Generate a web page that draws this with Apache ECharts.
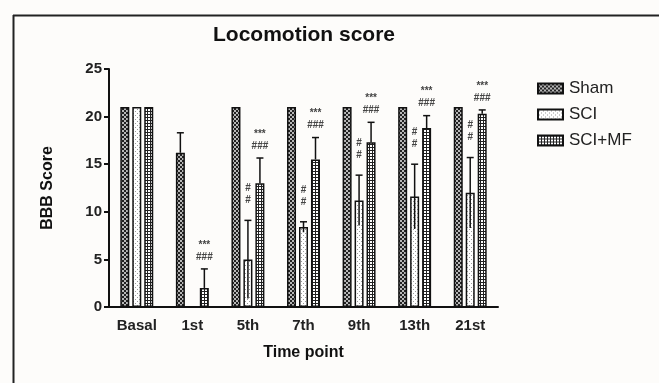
<!DOCTYPE html>
<html>
<head>
<meta charset="utf-8">
<script src="https://cdn.jsdelivr.net/npm/echarts@6/dist/echarts.min.js"></script>
<style>
html,body{margin:0;padding:0;background:#fdfcfa;}
#chart{width:659px;height:383px;}
</style>
</head>
<body>
<div id="chart"></div>
<script>
// ---- data ----
const categories = ['Basal', '1st', '5th', '7th', '9th', '13th', '21st'];
const seriesNames = ['Sham', 'SCI', 'SCI+MF'];
const shamValues = [21, 16.2, 21, 21, 21, 21, 21];
const shamErrors = [0, 2.1, 0, 0, 0, 0, 0];
const sciValues = [21, 0, 5.0, 8.4, 11.2, 11.6, 12.0];
const sciErrors = [0, 0, 4.1, 0.55, 2.65, 3.4, 3.7];
const mfValues = [21, 2.0, 13.0, 15.5, 17.3, 18.8, 20.3];
const mfErrors = [0, 2.0, 2.65, 2.3, 2.1, 1.3, 0.4];
const sciSig = ['', '', '#\n#', '#\n#', '#\n#', '#\n#', '#\n#'];
const mfSig = ['', '***\n###', '***\n###', '***\n###', '***\n###', '***\n###', '***\n###'];
const yTicks = [0, 5, 10, 15, 20, 25];

// ---- patterns ----
function makePattern(w, h, draw) {
  const c = document.createElement('canvas');
  c.width = w; c.height = h;
  const ctx = c.getContext('2d');
  draw(ctx);
  return { image: c, repeat: 'repeat' };
}
const shamPattern = makePattern(4, 4, ctx => {
  ctx.fillStyle = '#222222'; ctx.fillRect(0, 0, 4, 4);
  ctx.fillStyle = '#b8b8b8'; ctx.fillRect(0, 0, 2, 2); ctx.fillRect(2, 2, 2, 2);
});
const sciPattern = makePattern(4, 4, ctx => {
  ctx.fillStyle = '#ffffff'; ctx.fillRect(0, 0, 4, 4);
  ctx.fillStyle = '#9a9a9a'; ctx.fillRect(1, 1, 1, 1); ctx.fillRect(3, 3, 1, 1);
});
const mfPattern = makePattern(3, 3, ctx => {
  ctx.fillStyle = '#ffffff'; ctx.fillRect(0, 0, 3, 3);
  ctx.fillStyle = '#222222'; ctx.fillRect(0, 0, 3, 1); ctx.fillRect(0, 0, 1, 3);
});

const BAR_W = 9;
const STEP = 12;
const FONT = '"Liberation Sans", Arial, sans-serif';

function errSeries(values, errors, offset, both) {
  return {
    type: 'custom',
    z: 5,
    data: values.map((v, i) => [i, v, errors[i]]),
    renderItem: function (params, api) {
      const e = api.value(2);
      if (!e) return null;
      const i = api.value(0), v = api.value(1);
      const top = api.coord([i, v + e]);
      const bot = api.coord([i, both ? v - e : v]);
      const x = top[0] + offset;
      return {
        type: 'group',
        children: [
          { type: 'line', shape: { x1: x, y1: top[1], x2: x, y2: bot[1] }, style: { stroke: '#111', lineWidth: 1.5 } },
          { type: 'line', shape: { x1: x - 3.5, y1: top[1], x2: x + 3.5, y2: top[1] }, style: { stroke: '#111', lineWidth: 1.5 } }
        ]
      };
    }
  };
}

function sigSeries(values, errors, labels, offset, gap, size) {
  return {
    type: 'custom',
    z: 6,
    data: values.map((v, i) => [i, v, errors[i]]),
    renderItem: function (params, api) {
      const i = api.value(0);
      const txt = labels[i];
      if (!txt) return null;
      const p = api.coord([i, api.value(1) + api.value(2)]);
      return {
        type: 'text',
        style: {
          x: p[0] + offset, y: p[1] - gap, text: txt,
          align: 'center', verticalAlign: 'bottom',
          font: 'bold ' + size + 'px ' + FONT, fill: '#444', lineHeight: 12
        }
      };
    }
  };
}

const chart = echarts.init(document.getElementById('chart'), null, { renderer: 'canvas' });
chart.setOption({
  backgroundColor: '#fdfcfa',
  animation: false,
  title: {
    text: 'Locomotion score',
    left: 208, top: 20,
    textStyle: { fontFamily: FONT, fontSize: 21, fontWeight: 'bold', color: '#111' }
  },
  legend: {
    data: seriesNames,
    orient: 'vertical',
    left: 532, top: 75,
    itemWidth: 25, itemHeight: 10, itemGap: 9,
    icon: 'rect',
    textStyle: { fontFamily: FONT, fontSize: 17, color: '#222', padding: [0, 0, 0, 1] }
  },
  grid: { left: 109, right: 161, top: 69, bottom: 76 },
  xAxis: {
    type: 'category',
    data: categories,
    name: 'Time point',
    nameLocation: 'middle',
    nameGap: 38,
    nameTextStyle: { fontFamily: FONT, fontSize: 16, fontWeight: 'bold', color: '#111' },
    axisLine: { lineStyle: { color: '#111', width: 2 } },
    axisTick: { alignWithLabel: true, length: 5, lineStyle: { color: '#111', width: 2 } },
    axisLabel: { fontFamily: FONT, fontSize: 15, fontWeight: 'bold', color: '#222', margin: 11 }
  },
  yAxis: {
    type: 'value',
    min: 0, max: 25, interval: 5,
    name: 'BBB Score',
    nameLocation: 'middle',
    nameGap: 53,
    nameTextStyle: { fontFamily: FONT, fontSize: 16, fontWeight: 'bold', color: '#111' },
    axisLine: { show: true, lineStyle: { color: '#111', width: 2 } },
    axisTick: { show: true, length: 5, lineStyle: { color: '#111', width: 2 } },
    axisLabel: {
      fontFamily: FONT, fontSize: 15, fontWeight: 'bold', color: '#222', margin: 7,
      formatter: v => (yTicks.indexOf(v) >= 0 ? String(v) : '')
    },
    splitLine: { show: false }
  },
  graphic: [
    { type: 'line', shape: { x1: 13.5, y1: 15, x2: 13.5, y2: 383 }, style: { stroke: '#222', lineWidth: 2 } },
    { type: 'line', shape: { x1: 13, y1: 15.5, x2: 659, y2: 15.5 }, style: { stroke: '#222', lineWidth: 2 } }
  ],
  series: [
    { name: 'Sham', type: 'bar', data: shamValues, barWidth: BAR_W, barGap: '33%',
      itemStyle: { color: shamPattern, borderColor: '#111', borderWidth: 1.5 } },
    { name: 'SCI', type: 'bar', data: sciValues, barWidth: BAR_W, barGap: '33%',
      itemStyle: { color: sciPattern, borderColor: '#111', borderWidth: 1.5 } },
    { name: 'SCI+MF', type: 'bar', data: mfValues, barWidth: BAR_W, barGap: '33%',
      itemStyle: { color: mfPattern, borderColor: '#111', borderWidth: 1.5 } },
    errSeries(shamValues, shamErrors, -STEP, false),
    errSeries(sciValues, sciErrors, 0, true),
    errSeries(mfValues, mfErrors, STEP, false),
    sigSeries(sciValues, sciErrors, sciSig, 0, 14, 10),
    sigSeries(mfValues, mfErrors, mfSig, STEP, 6, 10)
  ]
});
</script>
</body>
</html>
